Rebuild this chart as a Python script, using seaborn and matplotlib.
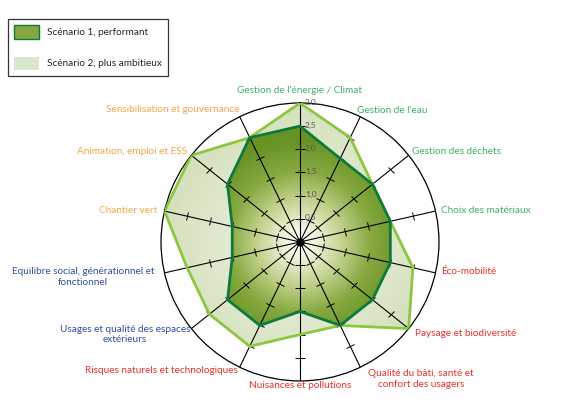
import numpy as np
import pandas as pd
import seaborn as sns
import matplotlib.pyplot as plt
from matplotlib.colors import LinearSegmentedColormap
from matplotlib.markers import MarkerStyle
from matplotlib.patches import Patch
from matplotlib.transforms import Affine2D

# Données du radar
criteres = [
    "Gestion de l'énergie / Climat",
    "Gestion de l'eau",
    "Gestion des déchets",
    "Choix des matériaux",
    "Éco-mobilité",
    "Paysage et biodiversité",
    "Qualité du bâti, santé et\nconfort des usagers",
    "Nuisances et pollutions",
    "Risques naturels et technologiques",
    "Usages et qualité des espaces\nextérieurs",
    "Equilibre social, générationnel et\nfonctionnel",
    "Chantier vert",
    "Animation, emploi et ESS",
    "Sensibilisation et gouvernance",
]
familles = ["env", "env", "env", "env", "risk", "risk", "risk", "risk", "risk",
            "soc", "soc", "gov", "gov", "gov"]
scenario_1 = [2.5, 2.0, 2.0, 2.0, 2.0, 2.0, 2.0, 1.5, 2.0, 2.0, 1.5, 1.5, 2.0, 2.5]
scenario_2 = [3.0, 2.5, 2.0, 2.0, 2.5, 3.0, 2.0, 2.0, 2.5, 2.5, 2.5, 3.0, 3.0, 2.5]
graduations = [0.5, 1.0, 1.5, 2.0, 2.5, 3.0]
noms_series = ["Scénario 1, performant", "Scénario 2, plus ambitieux"]

df = pd.DataFrame({"critere": criteres, "famille": familles,
                   "s1": scenario_1, "s2": scenario_2})

# Mise en forme
couleurs_famille = {"env": "#3fb06a", "risk": "#e8302b", "soc": "#2f4f9e", "gov": "#f4a64a"}
# décalage des étiquettes (pixels) par rapport au cercle extérieur
position_etiquettes = [
    (0, 12, "center"), (-3, 6, "left"), (3, 4, "left"), (6, 1, "left"),
    (6, 1, "left"), (6, -5, "left"), (8, -12, "left"), (0, -5, "center"),
    (-2, -3, "right"), (-1, -6, "right"), (-10, -4, "right"), (-7, 1, "right"),
    (-4, 4, "right"), (0, 7, "right"),
]

sns.set_style("white")
plt.rcParams["font.family"] = ["Lato", "DejaVu Sans"]

n = len(df)
angles = np.arange(n) * 2 * np.pi / n
rmax = 3.0

fig = plt.figure(figsize=(5.61, 4.07), dpi=100)
ax = fig.add_axes([0.287, 0.064, 0.4955, 0.683], projection="polar")
ax.set_theta_zero_location("N")
ax.set_theta_direction(-1)
ax.set_ylim(0, rmax)
ax.set_xticks([])
ax.set_yticks([])
ax.grid(False)
ax.spines["polar"].set_linewidth(0.9)
ax.spines["polar"].set_color("black")

# Grille pour les dégradés radiaux
tg = np.linspace(0, 2 * np.pi, 361)
rg = np.linspace(0, rmax, 151)
T, R = np.meshgrid(tg, rg)
C = (R[:-1, :-1] + R[1:, 1:]) / 2

cmap_s2 = LinearSegmentedColormap.from_list("s2", ["#f4f7ec", "#e2ead2", "#d3e0bb"])
cmap_s1 = LinearSegmentedColormap.from_list(
    "s1", [(0, "#ffffff"), (0.12, "#f5f7e6"), (0.4, "#c5d492"), (0.7, "#86a940"), (1, "#679325")])

th_closed = np.append(angles, angles[0])

# Scénario 2
s2 = np.append(df["s2"].values, df["s2"].values[0])
poly2 = ax.fill(th_closed, s2, facecolor="none", edgecolor="none", zorder=1)[0]
mesh2 = ax.pcolormesh(T, R, C, cmap=cmap_s2, vmin=0, vmax=rmax, shading="flat", zorder=1)
mesh2.set_clip_path(poly2)

# Scénario 1
s1 = np.append(df["s1"].values, df["s1"].values[0])
poly1 = ax.fill(th_closed, s1, facecolor="none", edgecolor="none", zorder=2)[0]
mesh1 = ax.pcolormesh(T, R, C, cmap=cmap_s1, vmin=0, vmax=2.2, shading="flat", zorder=2)
mesh1.set_clip_path(poly1)

# Rayons et graduations
for i, a in enumerate(angles):
    ax.plot([a, a], [0, rmax], color="black", lw=0.8, zorder=3)
    deg = np.degrees(a)
    taille = 7 if i in (0, n // 2) else 6
    m = MarkerStyle("_", transform=Affine2D().rotate_deg(-deg))
    ax.plot([a] * 5, graduations[:5], ls="none", marker=m, ms=taille,
            mew=0.7, color="black", zorder=3)

ax.plot([0], [0], "o", color="black", ms=5, zorder=6)

# Contours
ax.plot(th_closed, s2, color="#8dc63f", lw=2.0, zorder=4, solid_joinstyle="miter")
ax.plot(th_closed, s1, color="#0b7a3b", lw=2.0, zorder=5, solid_joinstyle="miter")

# Valeurs de l'échelle
for g in graduations:
    ax.annotate(f"{g:.1f}".replace(".", ","), xy=(0, g), xytext=(5, 1),
                textcoords="offset pixels", ha="left", va="center",
                fontsize=6, color="#555555", zorder=7)

# Étiquettes des critères
for a, (_, row), (dx, dy, ha) in zip(angles, df.iterrows(), position_etiquettes):
    ax.annotate(row["critere"], xy=(a, rmax), xytext=(dx, dy),
                textcoords="offset pixels", ha=ha, va="center",
                multialignment="center", fontsize=7.2,
                color=couleurs_famille[row["famille"]], annotation_clip=False)

# Légende
handles = [
    Patch(facecolor="#86a843", edgecolor="#0b7a3b", lw=1.0),
    Patch(facecolor="#dce6ca", edgecolor="none"),
]
leg = fig.legend(handles, noms_series, loc="upper left",
                 bbox_to_anchor=(8 / 561, 1 - 19 / 407), frameon=True,
                 fancybox=False, edgecolor="black", fontsize=7.2,
                 handlelength=2.5, handleheight=1.7, labelspacing=1.8,
                 borderpad=0.6, handletextpad=0.8, borderaxespad=0)
leg.get_frame().set_linewidth(0.9)

fig.savefig("out.png", dpi=100)
